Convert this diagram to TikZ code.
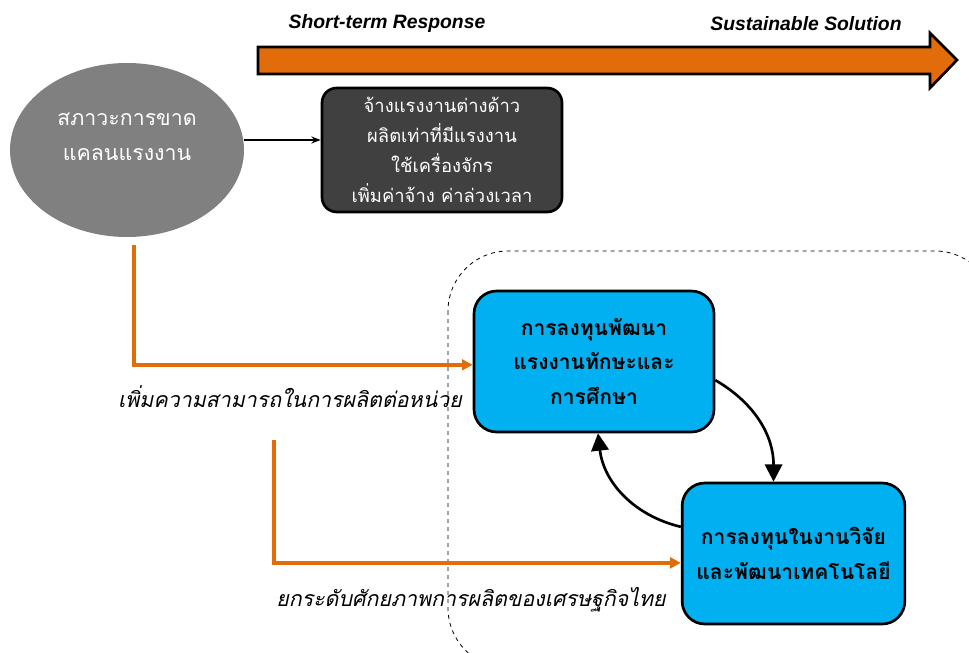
\documentclass[tikz,border=0pt]{standalone}
\usepackage{fontspec}
\setmainfont{Liberation Sans}
\newfontfamily\thaifont[Script=Thai]{Loma}
\usetikzlibrary{arrows.meta,shapes.geometric,calc}
\definecolor{OrangeClr}{RGB}{227,108,10}
\definecolor{BlueClr}{RGB}{0,176,240}
\definecolor{DarkClr}{RGB}{64,64,64}
\definecolor{GrayClr}{RGB}{128,128,128}

\begin{document}
\begin{tikzpicture}[x=0.75pt,y=-0.75pt,
  heading/.style={font=\fontsize{14.5}{17}\selectfont\bfseries\itshape},
  whitetext/.style={text=white,align=center,font=\thaifont\fontsize{16}{26}\selectfont},
  darkbox/.style={draw=black,line width=2pt,fill=DarkClr,rounded corners=11pt,
    minimum width=180pt,minimum height=93pt,inner sep=0pt},
  bluebox/.style={draw=black,line width=2pt,fill=BlueClr,rounded corners=17pt,
    minimum height=105.75pt,inner sep=0pt,align=center,
    font=\thaifont\bfseries\fontsize{15.8}{26}\selectfont},
  remark/.style={font=\thaifont\itshape\fontsize{16}{18}\selectfont},
  orangearrow/.style={draw=OrangeClr,line width=3pt,-{Triangle[length=8pt,width=8pt]}},
  cyclearrow/.style={draw=black,line width=2pt,-{Triangle[length=13pt,width=13pt]}}]
\useasboundingbox (0,0) rectangle (969,652);
\clip (0,0) rectangle (969,652);

\draw[dashed,line width=0.6pt,rounded corners=45pt] (448,251) rectangle (995,668);

\filldraw[fill=OrangeClr,draw=black,line width=2pt,line join=miter]
  (258,47) -- (930,47) -- (930,33) -- (957,60) -- (930,88) -- (930,74) -- (258,74) -- cycle;
\node[heading] (shortlabel) at (387,24) {Short-term Response};
\node[heading] (longlabel) at (806,24) {Sustainable Solution};

\node[ellipse,fill=GrayClr,minimum width=175.5pt,minimum height=130.5pt,inner sep=0pt] (shortage) at (127,150) {};
\node[whitetext] (shortagetext) at (127,137) {สภาวะการขาด\\แคลนแรงงาน};

\node[darkbox,whitetext,font=\thaifont\fontsize{13.8}{22.5}\selectfont] (shortterm) at (442,150)
  {จ้างแรงงานต่างด้าว\\ผลิตเท่าที่มีแรงงาน\\ใช้เครื่องจักร\\เพิ่มค่าจ้าง ค่าล่วงเวลา};

\draw[line width=1.5pt,-{Stealth[length=7pt]}] ([yshift=7.5pt]shortage.east) -- ([yshift=7.5pt]shortterm.west);

\node[bluebox,minimum width=180pt] (skills) at (594,361.5) {การลงทุนพัฒนา\\แรงงานทักษะและ\\การศึกษา};
\node[bluebox,minimum width=167pt] (research) at (793.5,553.5) {การลงทุนในงานวิจัย\\และพัฒนาเทคโนโลยี};

\coordinate (startA) at (134,245);
\coordinate (startB) at (274,440);
\draw[orangearrow] (startA) |- ([yshift=-2.5pt]skills.west);
\draw[orangearrow] (startB) |- ([yshift=-7pt]research.west);

\node[remark] (productivity) at (290,397) {เพิ่มความสามารถในการผลิตต่อหน่วย};
\node[remark] (potential) at (471,600) {ยกระดับศักยภาพการผลิตของเศรษฐกิจไทย};

\draw[cyclearrow] ([yshift=-14pt]skills.east) to[bend left=30] ([xshift=-15pt]research.north);
\draw[cyclearrow] ([yshift=20pt]research.west) to[bend left=35] ([xshift=3pt]skills.south);

\end{tikzpicture}
\end{document}
